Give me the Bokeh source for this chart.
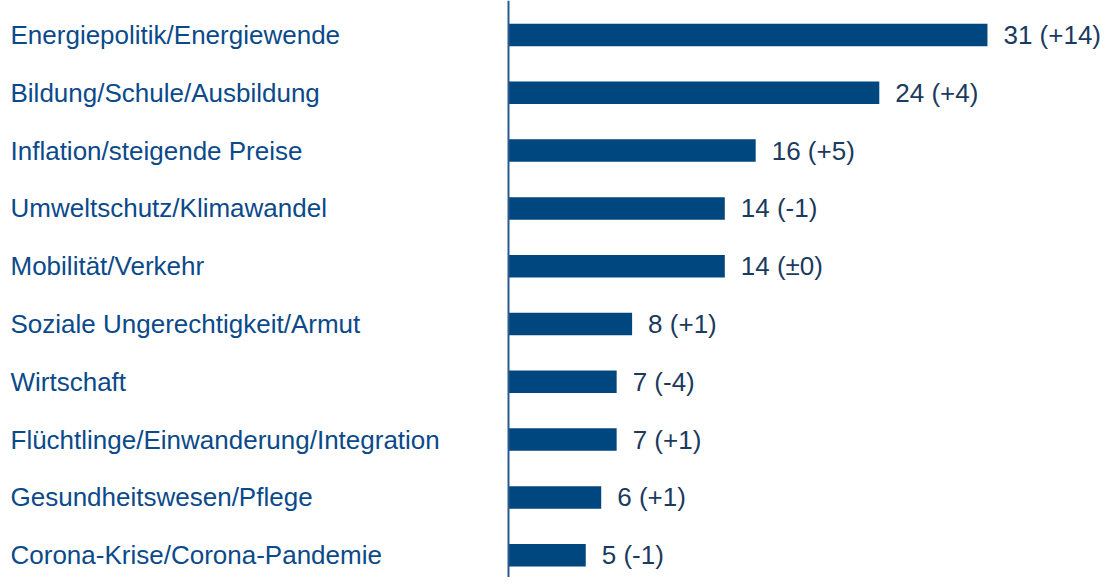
from bokeh.plotting import figure
from bokeh.models import ColumnDataSource, Range1d, Span
from bokeh.core.properties import value
from bokeh.embed import file_html
from bokeh.resources import INLINE

categories = [
    "Energiepolitik/Energiewende",
    "Bildung/Schule/Ausbildung",
    "Inflation/steigende Preise",
    "Umweltschutz/Klimawandel",
    "Mobilität/Verkehr",
    "Soziale Ungerechtigkeit/Armut",
    "Wirtschaft",
    "Flüchtlinge/Einwanderung/Integration",
    "Gesundheitswesen/Pflege",
    "Corona-Krise/Corona-Pandemie",
]
values = [31, 24, 16, 14, 14, 8, 7, 7, 6, 5]
changes = ["+14", "+4", "+5", "-1", "±0", "+1", "-4", "+1", "+1", "-1"]

BAR = "#00477F"
CAT_COL = "#0B4A8A"
VAL_COL = "#1A3A5E"
FONT = "Liberation Sans"

W, H = 1104, 577
px_per_unit = 15.45
axis_px = 508
x_start = -axis_px / px_per_unit
x_end = (W - axis_px) / px_per_unit

row = 57.8
first = 34.5
y_top = -first / row
y_bot = (H - first) / row

pos = list(range(len(categories)))
src = ColumnDataSource(dict(
    y=pos,
    v=values,
    cat=categories,
    lab=[f"{v} ({c})" for v, c in zip(values, changes)],
    x0=[x_start] * len(categories),
))

p = figure(width=W, height=H, output_backend="svg", toolbar_location=None,
           x_range=Range1d(x_start, x_end), y_range=Range1d(y_bot, y_top),
           min_border=0)
p.axis.visible = False
p.grid.visible = False
p.outline_line_color = None
p.background_fill_color = "white"
p.border_fill_color = "white"

p.hbar(y="y", left=0, right="v", height=0.39, source=src,
       fill_color=BAR, line_color=None)

p.add_layout(Span(location=0, dimension="height", line_color="#2D5A8C", line_width=2))

p.text(x="x0", y="y", text="cat", source=src, x_offset=10,
       text_font=value(FONT), text_font_size="26px", text_color=CAT_COL,
       text_align="left", text_baseline="middle")

p.text(x="v", y="y", text="lab", source=src, x_offset=16,
       text_font=value(FONT), text_font_size="26px", text_color=VAL_COL,
       text_align="left", text_baseline="middle")

open("out.html", "w").write(file_html(p, INLINE))
